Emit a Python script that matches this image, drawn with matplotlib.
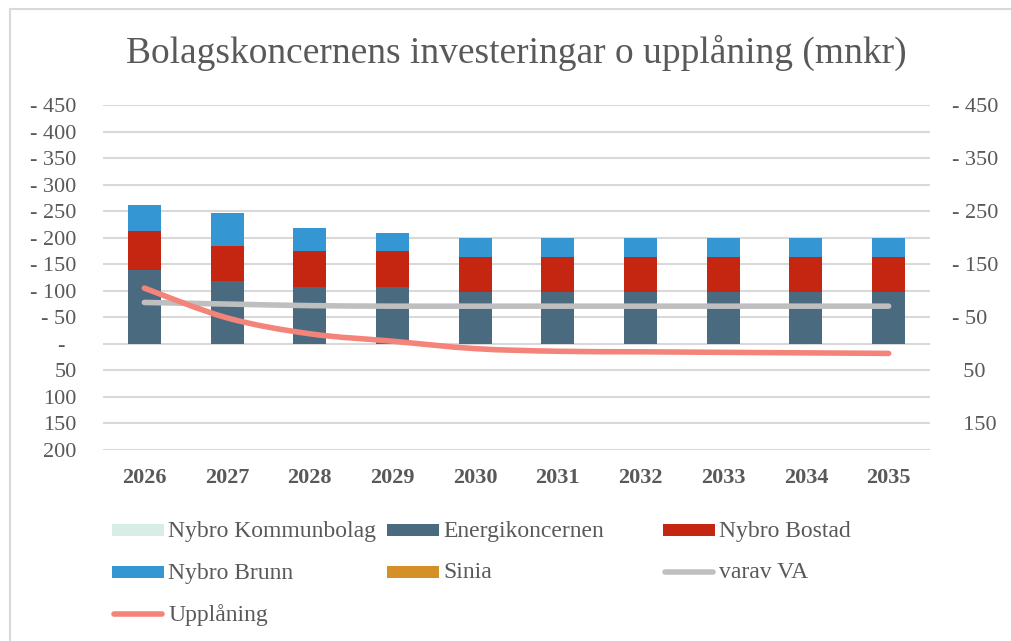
import matplotlib
matplotlib.use("Agg")
import matplotlib.pyplot as plt
from matplotlib.patches import Rectangle, PathPatch
from matplotlib.path import Path
from matplotlib.lines import Line2D
import numpy as np

years = ["2026", "2027", "2028", "2029", "2030", "2031", "2032", "2033", "2034", "2035"]
kommunbolag = [0, 0, 0, 0, 0, 0, 0, 0, 0, 0]
energikoncernen = [139, 118, 107, 107, 97, 97, 97, 97, 97, 97]
nybro_bostad = [73, 67, 67, 67, 67, 67, 67, 67, 67, 67]
nybro_brunn = [50, 62, 45, 35, 35, 35, 35, 35, 35, 35]
sinia = [0, 0, 0, 0, 0, 0, 0, 0, 0, 0]
varav_va = [78, 75, 72, 71, 71, 71, 71, 71, 71, 71]
upplaning = [105, 49, 19, 5, -9, -14, -15, -16, -17, -18]

left_ticks = [450, 400, 350, 300, 250, 200, 150, 100, 50, 0, -50, -100, -150, -200]
right_ticks = [450, 350, 250, 150, 50, -50, -150]

C_KB = "#D8EDE5"
C_EN = "#4A6B7F"
C_BO = "#C42612"
C_BR = "#3497D3"
C_SI = "#D48F26"
C_VA = "#BFBFBF"
C_UP = "#F4847A"
TXT = "#595959"
GRID = "#D9D9D9"
SERIF = "Liberation Serif"

def fmt_left(v):
    if v > 0:
        return "- %d" % v
    if v == 0:
        return "-  "
    return "%d" % (-v)

def fmt_right(v):
    if v > 0:
        return "- %d" % v
    if v == 0:
        return "-"
    return "  %d" % (-v)

def smooth_path(xs, ys):
    # Excel-style smoothed line: cubic Bezier through the data points
    xs = np.asarray(xs, float)
    ys = np.asarray(ys, float)
    pts = np.column_stack([xs, ys])
    n = len(pts)
    verts = [pts[0]]
    codes = [Path.MOVETO]
    for i in range(n - 1):
        p0 = pts[i - 1] if i > 0 else pts[i]
        p1 = pts[i]
        p2 = pts[i + 1]
        p3 = pts[i + 2] if i + 2 < n else pts[i + 1]
        c1 = p1 + (p2 - p0) / 6.0
        c2 = p2 - (p3 - p1) / 6.0
        verts += [c1, c2, p2]
        codes += [Path.CURVE4] * 3
    return Path(verts, codes)

W, H = 1012, 641
fig = plt.figure(figsize=(W / 100, H / 100), dpi=100)
ax = fig.add_axes([103 / W, 1 - 450 / H, (930 - 103) / W, (450 - 105) / H])

x = np.arange(len(years))
bw = 0.4
b0 = np.zeros(len(years))
for vals, col in [(kommunbolag, C_KB), (energikoncernen, C_EN), (nybro_bostad, C_BO),
                  (nybro_brunn, C_BR), (sinia, C_SI)]:
    v = np.array(vals, dtype=float)
    ax.bar(x, v, bw, bottom=b0, color=col, edgecolor="none", zorder=2)
    b0 = b0 + v

for vals, col, z in [(varav_va, C_VA, 3), (upplaning, C_UP, 4)]:
    pp = PathPatch(smooth_path(x, vals), facecolor="none", edgecolor=col, lw=4,
                   capstyle="round", joinstyle="round", zorder=z)
    ax.add_patch(pp)

ax.set_xlim(-0.5, len(years) - 0.5)
ax.set_ylim(-200, 450)
ax.set_yticks(left_ticks)
ax.set_yticklabels([fmt_left(v) for v in left_ticks], family=SERIF, fontsize=16, color=TXT)
ax.yaxis.grid(True, color=GRID, lw=1.5, zorder=0)
ax.set_axisbelow(True)
ax.tick_params(axis="y", length=0, pad=19)
ax.set_xticks(x)
ax.set_xticklabels(years, family=SERIF, fontsize=16, fontweight="bold", color=TXT)
ax.tick_params(axis="x", length=0, pad=13)
for s in ax.spines.values():
    s.set_visible(False)

ax2 = ax.twinx()
ax2.set_ylim(-200, 450)
ax2.set_yticks(right_ticks)
ax2.set_yticklabels([fmt_right(v) for v in right_ticks], family=SERIF, fontsize=16, color=TXT)
ax2.tick_params(axis="y", length=0, pad=16)
for s in ax2.spines.values():
    s.set_visible(False)

fig.text(516 / W, 1 - 53 / H, "Bolagskoncernens investeringar o upplåning (mnkr)",
         family=SERIF, fontsize=27, color=TXT, ha="center", va="center")

# legend drawn manually in figure coordinates
legend_items = [
    ("Nybro Kommunbolag", C_KB, "patch"),
    ("Energikoncernen", C_EN, "patch"),
    ("Nybro Bostad", C_BO, "patch"),
    ("Nybro Brunn", C_BR, "patch"),
    ("Sinia", C_SI, "patch"),
    ("varav VA", C_VA, "line"),
    ("Upplåning", C_UP, "line"),
]
col_x = [112, 387, 663]
row_y = [530, 572, 614]
for i, (lab, col, kind) in enumerate(legend_items):
    cx = col_x[i % 3]
    cy = row_y[i // 3]
    if kind == "patch":
        fig.add_artist(Rectangle((cx / W, 1 - (cy + 6) / H), 52 / W, 12 / H,
                                 transform=fig.transFigure, color=col, lw=0))
    else:
        fig.add_artist(Line2D([(cx + 2) / W, (cx + 50) / W], [1 - cy / H, 1 - cy / H],
                              transform=fig.transFigure, color=col, lw=4,
                              solid_capstyle="round"))
    fig.text((cx + 56) / W, 1 - (cy + 1) / H, lab, family=SERIF, fontsize=17, color=TXT,
             ha="left", va="center")

# chart border
fig.add_artist(Line2D([10 / W, 1], [1 - 9 / H, 1 - 9 / H], transform=fig.transFigure,
                      color=GRID, lw=1.5))
fig.add_artist(Line2D([10 / W, 10 / W], [0, 1 - 9 / H], transform=fig.transFigure,
                      color=GRID, lw=1.5))

fig.savefig("out.png", dpi=100)
